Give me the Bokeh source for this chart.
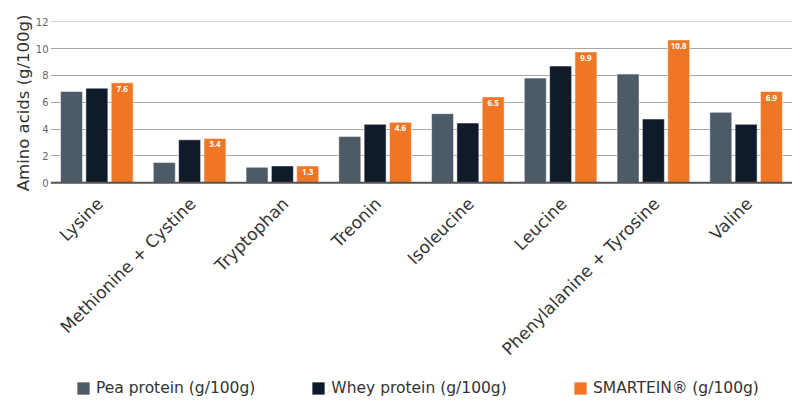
import math
from bokeh.plotting import figure
from bokeh.models import (ColumnDataSource, FactorRange, Range1d, FixedTicker, Legend,
                          LegendItem, Span, Title)
from bokeh.transform import dodge
from bokeh.core.properties import value
from bokeh.embed import file_html
from bokeh.resources import INLINE

categories = ["Lysine", "Methionine + Cystine", "Tryptophan", "Treonin",
              "Isoleucine", "Leucine", "Phenylalanine + Tyrosine", "Valine"]
pea = [6.8, 1.5, 1.15, 3.45, 5.15, 7.8, 8.1, 5.25]
whey = [7.05, 3.2, 1.25, 4.35, 4.45, 8.7, 4.75, 4.35]
smartein = [7.45, 3.3, 1.25, 4.5, 6.4, 9.75, 10.65, 6.8]
smartein_labels = ["7.6", "3.4", "1.3", "4.6", "6.5", "9.9", "10.8", "6.9"]
series_names = ["Pea protein (g/100g)", "Whey protein (g/100g)", "SMARTEIN\u00ae (g/100g)"]
y_ticks = [0, 2, 4, 6, 8, 10, 12]

colors = ["#4d5a67", "#111a2b", "#ef7625"]
FONT = "DejaVu Sans"

# layout in pixels: frame spans the whole plot incl. category labels & legend area
FRAME_W, H = 742, 399
TOP, LEFT = 21, 50
frame_h = H - TOP
px_per_unit = 160.9 / 12.0
zero_px = 161.2            # distance of value 0 below the frame top
y_end = zero_px / px_per_unit
y_start = -(frame_h - zero_px) / px_per_unit

src = ColumnDataSource(dict(cat=categories, pea=pea, whey=whey, smartein=smartein,
                            lab=smartein_labels, zero=[0] * len(categories)))

p = figure(x_range=FactorRange(*categories, range_padding=0),
           y_range=Range1d(y_start, y_end),
           frame_width=FRAME_W, frame_height=frame_h,
           output_backend="svg", toolbar_location=None,
           min_border_left=LEFT, min_border_right=0, min_border_top=TOP, min_border_bottom=0)
p.outline_line_color = None

bw = 0.237
off = 0.273
r1 = p.vbar(x=dodge("cat", -off, range=p.x_range), top="pea", width=bw, source=src,
            fill_color=colors[0], line_color="white", line_alpha=0.5, line_width=1)
r2 = p.vbar(x=dodge("cat", 0, range=p.x_range), top="whey", width=bw, source=src,
            fill_color=colors[1], line_color="white", line_alpha=0.5, line_width=1)
r3 = p.vbar(x=dodge("cat", off, range=p.x_range), top="smartein", width=bw, source=src,
            fill_color=colors[2], line_color="white", line_alpha=0.5, line_width=1)

p.text(x=dodge("cat", off, range=p.x_range), y="smartein", text="lab", source=src,
       text_font=value("Open Sans"), text_font_style="bold", text_font_size="8px",
       text_color="white", text_align="center", text_baseline="top", y_offset=3)

# category labels (rotated 45 degrees)
p.text(x="cat", y="zero", text="cat", source=src, angle=math.pi / 4,
       text_font=value(FONT), text_font_size="17px", text_color="#333333",
       text_align="right", text_baseline="middle", x_offset=3, y_offset=18)

# baseline
p.add_layout(Span(location=0, dimension="width", line_color="#555555", line_width=2))

p.xaxis.visible = False
p.xgrid.grid_line_color = None
p.ygrid.ticker = FixedTicker(ticks=y_ticks[1:])
p.ygrid.grid_line_color = "#a8a8a8"
p.ygrid.grid_line_width = 1

p.yaxis.ticker = FixedTicker(ticks=y_ticks)
p.yaxis.axis_line_color = None
p.yaxis.major_tick_line_color = None
p.yaxis.minor_tick_line_color = None
p.yaxis.major_tick_out = 0
p.yaxis.major_tick_in = 0
p.yaxis.major_label_text_font = FONT
p.yaxis.major_label_text_font_size = "10px"
p.yaxis.major_label_text_color = "#666666"
p.yaxis.major_label_standoff = 2

ytitle = Title(text="Amino acids (g/100g)", align="right", standoff=0, offset=-7,
               text_font=FONT, text_font_size="16.5px", text_font_style="normal",
               text_color="#333333")
p.add_layout(ytitle, "left")

common = dict(orientation="horizontal", glyph_width=16, glyph_height=16,
              label_standoff=5, label_height=16, label_text_font=FONT,
              label_text_font_size="15.5px", label_text_color="#333333",
              border_line_color=None, background_fill_alpha=0, padding=0, margin=0)
legend1 = Legend(items=[LegendItem(label=series_names[0], renderers=[r1]),
                        LegendItem(label=series_names[1], renderers=[r2])],
                 location=(25, 2), spacing=55, **common)
legend2 = Legend(items=[LegendItem(label=series_names[2], renderers=[r3])],
                 location=(522, 2), **common)
p.add_layout(legend1, "center")
p.add_layout(legend2, "center")

open("out.html", "w").write(file_html(p, INLINE))
